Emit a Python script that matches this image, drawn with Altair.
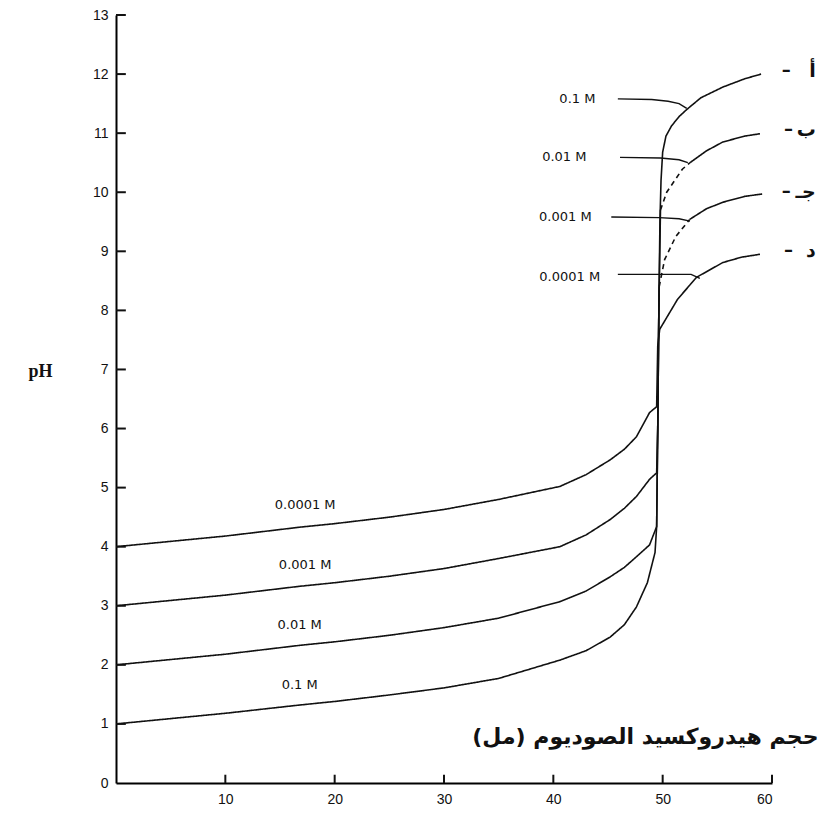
import altair as alt
import pandas as pd

# ---- curve data (volume of NaOH in mL, pH) ----
A_v = [0, 5, 10, 16.8, 20, 25, 30, 35, 40.6, 43, 45.2, 46.5, 47.6, 48.6, 49.3,
       49.45, 49.55, 49.65, 49.75, 49.85, 50.0, 50.3, 50.8, 51.5, 52.2, 53.5, 55.5, 57.5, 59.0]
A_ph = [1.0, 1.09, 1.18, 1.32, 1.38, 1.49, 1.61, 1.77, 2.08, 2.24, 2.47, 2.68, 2.98, 3.39, 3.9,
        4.34, 6.0, 8.0, 9.5, 10.2, 10.68, 10.95, 11.12, 11.28, 11.4, 11.6, 11.78, 11.92, 12.0]

B_v = [0, 5, 10, 16.8, 20, 25, 30, 35, 40.6, 43, 45.2, 46.5, 47.6, 48.8, 49.45,
       49.55, 49.65, 49.8, 50.37, 51.8, 52.5, 54, 55.5, 57.5, 58.9]
B_ph = [2.0, 2.09, 2.18, 2.33, 2.39, 2.5, 2.63, 2.79, 3.07, 3.25, 3.49, 3.65, 3.83, 4.03, 4.34,
        6.0, 8.0, 9.7, 10.0, 10.39, 10.5, 10.7, 10.85, 10.95, 10.99]

C_v = [0, 5, 10, 16.8, 20, 25, 30, 35, 40.6, 43, 45.2, 46.5, 47.6, 48.8, 49.45,
       49.55, 49.62, 49.68, 50.18, 51.2, 52.47, 54, 55.5, 57.5, 59.1]
C_ph = [3.0, 3.09, 3.18, 3.33, 3.39, 3.5, 3.63, 3.8, 4.0, 4.2, 4.46, 4.65, 4.85, 5.14, 5.25,
        6.0, 7.5, 8.4, 8.86, 9.25, 9.54, 9.72, 9.83, 9.93, 9.97]

D_v = [0, 5, 10, 16.8, 20, 25, 30, 35, 40.6, 43, 45.2, 46.5, 47.6, 48.8, 49.45,
       49.55, 49.73, 51.37, 53.1, 55.5, 57.2, 58.9]
D_ph = [4.0, 4.09, 4.18, 4.33, 4.39, 4.5, 4.63, 4.8, 5.02, 5.22, 5.47, 5.65, 5.86, 6.27, 6.37,
        7.4, 7.68, 8.19, 8.56, 8.81, 8.9, 8.95]

# index ranges (start, end) of the branch stretch that is drawn dashed
B_dash = (17, 20)
C_dash = (17, 20)

# ---- pointer lines from the right-hand labels to the curves ----
P1_v = [45.9, 49.0, 50.5, 51.5, 52.2]
P1_ph = [11.58, 11.57, 11.54, 11.5, 11.42]
P2_v = [46.1, 49.8, 51.5, 52.3]
P2_ph = [10.59, 10.58, 10.55, 10.5]
P3_v = [45.3, 49.7, 51.5, 52.5]
P3_ph = [9.58, 9.57, 9.55, 9.51]
P4_v = [45.9, 49.7, 52.6, 53.4]
P4_ph = [8.61, 8.61, 8.61, 8.54]

# ---- text labels ----
lab_text = ["0.0001  M", "0.001  M", "0.01  M", "0.1  M",
            "0.1  M", "0.01  M", "0.001  M", "0.0001  M"]
lab_v = [17.3, 17.3, 16.8, 16.8, 42.2, 41.0, 41.1, 41.5]
lab_ph = [4.71, 3.69, 2.68, 1.66, 11.58, 10.6, 9.58, 8.56]

letter_text = ["أ", "ب", "جـ", "د"]
letter_v = [64.0, 64.0, 64.0, 64.0]
letter_ph = [12.05, 11.05, 10.0, 9.0]
dash_v = [61.3, 61.5, 61.3, 61.5]

x_ticks = [10, 20, 30, 40, 50, 60]
y_ticks = list(range(0, 14))
x_title = "حجم هيدروكسيد الصوديوم (مل)\u200f"

rows = []
for name, vs, ps, dash in [("A", A_v, A_ph, None), ("B", B_v, B_ph, B_dash),
                           ("C", C_v, C_ph, C_dash), ("D", D_v, D_ph, None)]:
    for i, (v, p) in enumerate(zip(vs, ps)):
        if dash is None:
            rows.append({"seg": name + "0", "style": "solid", "v": v, "ph": p, "order": i})
            continue
        a, b = dash
        if i <= a:
            rows.append({"seg": name + "0", "style": "solid", "v": v, "ph": p, "order": i})
        if a <= i <= b:
            rows.append({"seg": name + "1", "style": "dash", "v": v, "ph": p, "order": i})
        if i >= b:
            rows.append({"seg": name + "2", "style": "solid", "v": v, "ph": p, "order": i})
curves_df = pd.DataFrame(rows)

prow = []
for name, vs, ps in [("P1", P1_v, P1_ph), ("P2", P2_v, P2_ph), ("P3", P3_v, P3_ph), ("P4", P4_v, P4_ph)]:
    for i, (v, p) in enumerate(zip(vs, ps)):
        prow.append({"ptr": name, "v": v, "ph": p, "order": i})
ptr_df = pd.DataFrame(prow)

lab_df = pd.DataFrame({"t": lab_text, "v": lab_v, "ph": lab_ph})
let_df = pd.DataFrame({"t": letter_text, "v": letter_v, "ph": letter_ph,
                       "dv": dash_v, "dash": ["–"] * 4})
xt_df = pd.DataFrame({"v": x_ticks})
yt_df = pd.DataFrame({"ph": y_ticks[1:]})

xs = alt.Scale(domain=[0, 60], nice=False, zero=False)
ys = alt.Scale(domain=[0, 13], nice=False, zero=False)

x_axis = alt.Axis(values=x_ticks, ticks=False, grid=False, domainColor="black", domainWidth=2,
                  labelFont="Liberation Sans", labelFontSize=14, labelColor="#111",
                  labelPadding=9, format="d", title=x_title, titleFont="DejaVu Sans",
                  titleFontSize=22, titleFontWeight=600, titleColor="#111",
                  titleX=702, titleY=-47, titleAlign="right", titleBaseline="middle")
y_axis = alt.Axis(values=y_ticks, ticks=False, grid=False, domainColor="black", domainWidth=2,
                  labelFont="Liberation Sans", labelFontSize=14, labelColor="#111",
                  labelPadding=8, format="d", title="pH", titleAngle=0,
                  titleFont="Liberation Serif", titleFontSize=18, titleFontWeight="bold",
                  titleColor="#111", titleX=-88, titleY=356, titleAlign="left",
                  titleBaseline="middle")

curves = alt.Chart(curves_df).mark_line(color="#111", strokeWidth=1.6, clip=False).encode(
    x=alt.X("v:Q", scale=xs, axis=x_axis),
    y=alt.Y("ph:Q", scale=ys, axis=y_axis),
    detail="seg:N",
    order="order:Q",
    strokeDash=alt.StrokeDash("style:N", scale=alt.Scale(domain=["solid", "dash"],
                                                          range=[[1, 0], [5, 4]]), legend=None),
)

ptrs = alt.Chart(ptr_df).mark_line(color="#111", strokeWidth=1.4).encode(
    x=alt.X("v:Q", scale=xs), y=alt.Y("ph:Q", scale=ys), detail="ptr:N", order="order:Q"
)

labels = alt.Chart(lab_df).mark_text(font="DejaVu Sans", fontSize=13, color="#111").encode(
    x=alt.X("v:Q", scale=xs), y=alt.Y("ph:Q", scale=ys), text="t:N"
)

letters = alt.Chart(let_df).mark_text(font="DejaVu Sans", fontSize=19, color="#111",
                                      align="right", fontWeight="bold").encode(
    x=alt.X("v:Q", scale=xs), y=alt.Y("ph:Q", scale=ys), text="t:N"
)
dashes = alt.Chart(let_df).mark_text(font="DejaVu Sans", fontSize=18, color="#111",
                                     align="center", fontWeight="bold").encode(
    x=alt.X("dv:Q", scale=xs), y=alt.Y("ph:Q", scale=ys), text="dash:N"
)

yticks = alt.Chart(yt_df).mark_rule(color="#111", strokeWidth=2).encode(
    y=alt.Y("ph:Q", scale=ys), x=alt.datum(0, scale=xs), x2=alt.datum(0.9)
)
xticks = alt.Chart(xt_df).mark_rule(color="#111", strokeWidth=2).encode(
    x=alt.X("v:Q", scale=xs), y=alt.datum(0, scale=ys), y2=alt.datum(0.14)
)

chart = alt.layer(curves, ptrs, labels, letters, dashes, yticks, xticks).properties(
    width=656, height=768,
    padding={"left": 108, "top": 7, "right": 46, "bottom": 25},
    autosize="none",
    background="white",
).configure_view(stroke=None)

chart.save("out.html", embed_options={"renderer": "svg", "actions": False})
